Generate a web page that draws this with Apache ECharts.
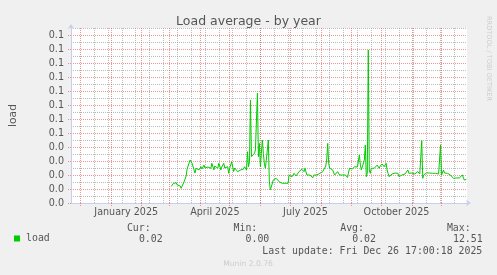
<!DOCTYPE html>
<html><head><meta charset="utf-8">
<script src="https://cdn.jsdelivr.net/npm/echarts@6/dist/echarts.min.js"></script>
<style>html,body{margin:0;padding:0;background:#F0F0F0;overflow:hidden}#c{width:497px;height:275px}</style>
</head><body><div id="c"></div>
<script>
// ---- data ----
const chartTitle = 'Load average - by year';
const seriesName = 'load';
const firstSampleDay = [2025, 2, 3]; // 3 March 2025, one sample per day
const loadValues = [
0.0118,0.0129,0.0139,0.0129,0.0136,0.0145,0.0129,0.0116,0.0129,0.0121,
0.0105,0.0121,0.0134,0.0152,0.0157,0.0193,0.0243,0.0248,0.0286,0.0307,
0.0304,0.0284,0.0271,0.0236,0.0214,0.0248,0.0257,0.0259,0.0236,0.0250,
0.0259,0.0243,0.0248,0.0271,0.0250,0.0248,0.0259,0.0257,0.0271,0.0250,
0.0248,0.0284,0.0271,0.0236,0.0264,0.0271,0.0250,0.0248,0.0284,0.0264,
0.0236,0.0257,0.0259,0.0284,0.0250,0.0236,0.0257,0.0259,0.0212,0.0250,
0.0271,0.0295,0.0293,0.0224,0.0250,0.0248,0.0236,0.0224,0.0231,0.0236,
0.0236,0.0248,0.0241,0.0243,0.0259,0.0259,0.0236,0.0366,0.0259,0.0295,
0.0736,0.0331,0.0343,0.0331,0.0355,0.0379,0.0379,0.0784,0.0331,0.0426,
0.0259,0.0355,0.0450,0.0355,0.0284,0.0248,0.0307,0.0379,0.0450,0.0164,
0.0093,0.0114,0.0116,0.0164,0.0152,0.0152,0.0176,0.0176,0.0164,0.0152,
0.0152,0.0141,0.0141,0.0129,0.0141,0.0141,0.0152,0.0152,0.0141,0.0200,
0.0200,0.0188,0.0188,0.0200,0.0212,0.0212,0.0193,0.0193,0.0207,0.0224,
0.0224,0.0212,0.0241,0.0241,0.0224,0.0248,0.0248,0.0200,0.0188,0.0188,
0.0200,0.0188,0.0188,0.0181,0.0200,0.0200,0.0207,0.0200,0.0200,0.0212,
0.0212,0.0200,0.0200,0.0224,0.0224,0.0212,0.0264,0.0307,0.0426,0.0284,
0.0248,0.0257,0.0259,0.0236,0.0224,0.0200,0.0207,0.0212,0.0224,0.0224,
0.0200,0.0207,0.0212,0.0200,0.0188,0.0200,0.0200,0.0188,0.0182,0.0176,
0.0248,0.0243,0.0236,0.0243,0.0248,0.0259,0.0264,0.0271,0.0257,0.0248,
0.0343,0.0271,0.0236,0.0229,0.0224,0.0307,0.0414,0.0188,0.0212,0.1093,
0.0236,0.0212,0.0248,0.0257,0.0259,0.0248,0.0257,0.0259,0.0271,0.0284,
0.0248,0.0264,0.0271,0.0279,0.0284,0.0259,0.0271,0.0284,0.0236,0.0212,
0.0188,0.0200,0.0200,0.0207,0.0212,0.0200,0.0214,0.0224,0.0218,0.0212,
0.0188,0.0193,0.0200,0.0200,0.0207,0.0212,0.0207,0.0200,0.0221,0.0236,
0.0212,0.0207,0.0200,0.0214,0.0224,0.0212,0.0207,0.0200,0.0214,0.0224,
0.0212,0.0207,0.0200,0.0445,0.0176,0.0200,0.0207,0.0212,0.0216,0.0214,
0.0212,0.0214,0.0216,0.0214,0.0212,0.0216,0.0214,0.0212,0.0216,0.0212,
0.0207,0.0204,0.0414,0.0200,0.0188,0.0236,0.0214,0.0200,0.0207,0.0212,
0.0224,0.0211,0.0200,0.0193,0.0188,0.0176,0.0182,0.0188,0.0179,0.0169,
0.0184,0.0179,0.0176,0.0193,0.0200,0.0212,0.0164,0.0168,0.0169
];
const yTickLabels = ['0.0','0.0','0.0','0.0','0.0','0.1','0.1','0.1','0.1','0.1','0.1','0.1','0.1'];
const xLabelTexts = ['January 2025','April 2025','July 2025','October 2025'];
const xLabelMonths = [[2025,0],[2025,3],[2025,6],[2025,9]];
const statLabels = ['Cur:','Min:','Avg:','Max:'];
const statValues = ['0.02','0.00','0.02','12.51'];
const lastUpdate = 'Last update: Fri Dec 26 17:00:18 2025';
const footerText = 'Munin 2.0.76';
const sideText = 'RRDTOOL / TOBI OETIKER';
const rangeStart = Date.UTC(2024,10,21,17,0,18);
const rangeEnd   = Date.UTC(2025,11,26,17,0,18);

// ---- derived ----
const DAY = 86400000;
const seriesData = loadValues.map((v,i)=>[Date.UTC(firstSampleDay[0],firstSampleDay[1],firstSampleDay[2]+i), v]);
const monthLines = [];
for (let m = 11; m <= 23; m++) monthLines.push(Date.UTC(2024, m, 1));
const weekLines = [];
for (let t = Date.UTC(2024,11,15); t < rangeEnd; t += 14*DAY) weekLines.push(t);
const labelCenters = xLabelMonths.map(([y,m]) => (Date.UTC(y,m,1) + Date.UTC(y,m+1,1)) / 2);
const yMajor = yTickLabels.map((_,i)=>i*0.01);

const RED = 'rgba(222,79,79,0.6)';
const GREY = 'rgba(143,143,143,0.6)';
const AXIS = '#C8CEF0';
const FONT = 'DejaVu Sans';
const MONO = 'DejaVu Sans Mono';

const chart = echarts.init(document.getElementById('c'), null, {renderer:'canvas'});

const statCols = [162.7, 269.3, 376, 482.7];
const graphics = [];
statLabels.forEach((s,i)=>{
  graphics.push({type:'text', x: statCols[i]-12, y: 228.5, style:{text:s, font:'9.9px "'+MONO+'"', fill:'#555', align:'right', verticalAlign:'middle'}});
  graphics.push({type:'text', x: statCols[i], y: 239.5, style:{text:statValues[i], font:'9.9px "'+MONO+'"', fill:'#555', align:'right', verticalAlign:'middle'}});
});
graphics.push({type:'text', x: 482.3, y: 251, style:{text:lastUpdate, font:'9.9px "'+MONO+'"', fill:'#555', align:'right', verticalAlign:'middle'}});
graphics.push({type:'text', x: 248, y: 264.5, style:{text:footerText, font:'7.6px "'+FONT+'"', fill:'#cccccc', align:'center', verticalAlign:'middle'}});
graphics.push({type:'text', x: 488.5, y: 58.5, rotation: -Math.PI/2, style:{text:sideText, font:'6.6px "'+FONT+'"', fill:'#cccccc', align:'center', verticalAlign:'middle'}});

const gridAxis = (vals, color, tickLen) => ({type:'value', position:'bottom', offset:0, min:rangeStart, max:rangeEnd,
  axisLine:{show:false}, axisLabel:{show:false},
  axisTick:{show:tickLen>0, customValues:vals, length:tickLen, inside:false, lineStyle:{color:color, type:[1,1]}},
  splitLine:{show:true, lineStyle:{color:color, type:[1,1], width:1}}});

chart.setOption({
  animation:false,
  backgroundColor:'#F0F0F0',
  title:{text:chartTitle, left:'center', top:10, textStyle:{fontFamily:FONT, fontSize:12.5, fontWeight:'normal', color:'#555'}},
  legend:{left:14, top:233.5, padding:0, icon:'rect', itemWidth:6, itemHeight:6, itemGap:5,
    data:[seriesName], textStyle:{fontFamily:MONO, fontSize:9.9, color:'#555', padding:[0,0,0,1]}},
  grid:{left:67, right:30, top:28, bottom:72, show:true, backgroundColor:'#ffffff', borderWidth:0},
  xAxis:[
    gridAxis(weekLines, GREY, 0),
    gridAxis(monthLines, RED, 3),
    {type:'value', position:'bottom', offset:0, min:rangeStart, max:rangeEnd,
      axisLine:{show:false}, axisTick:{show:false}, splitLine:{show:false},
      axisLabel:{customValues:labelCenters, hideOverlap:false, showMinLabel:true, showMaxLabel:true, margin:4, color:'#555', fontFamily:FONT, fontSize:9.6,
        formatter:(v)=>{ let best=0; labelCenters.forEach((c,i)=>{ if (Math.abs(c-v)<Math.abs(labelCenters[best]-v)) best=i; }); return xLabelTexts[best]; }}},
    {type:'time', position:'bottom', offset:0, min:rangeStart, max:rangeEnd,
      axisLine:{show:true, onZero:false, lineStyle:{color:AXIS, width:1}, symbol:['none','arrow'], symbolSize:[5,5], symbolOffset:[0,4]},
      axisTick:{show:false}, splitLine:{show:false}, axisLabel:{show:false}}
  ],
  yAxis:[{type:'value', min:0, max:0.125, interval:0.005, position:'left', offset:0,
    axisLine:{show:false}, axisTick:{show:false}, axisLabel:{show:false},
    splitLine:{show:true, lineStyle:{color:[RED, GREY], type:[1,1], width:1}}
  },{type:'value', min:0, max:0.125, position:'left', offset:0,
    name:'load', nameLocation:'middle', nameGap:52, nameRotate:90,
    nameTextStyle:{fontFamily:FONT, fontSize:10.7, color:'#555'},
    axisLine:{show:true, onZero:false, lineStyle:{color:AXIS, width:1}, symbol:['none','arrow'], symbolSize:[5,5], symbolOffset:[0,4]},
    axisTick:{show:true, customValues:yMajor, length:3, lineStyle:{color:RED, type:[1,1]}},
    axisLabel:{customValues:yMajor, margin:7, color:'#555', fontFamily:FONT, fontSize:9.6,
      formatter:(v)=>yTickLabels[Math.round(v/0.01)] || ''},
    splitLine:{show:false}
  }],
  series:[
    {name:seriesName, type:'line', xAxisIndex:3, yAxisIndex:0, data:seriesData, showSymbol:false, symbol:'none',
      lineStyle:{color:'#00CC00', width:1}, itemStyle:{color:'#00CC00'}, z:5}
  ],
  graphic: graphics
});
</script>
</body></html>
